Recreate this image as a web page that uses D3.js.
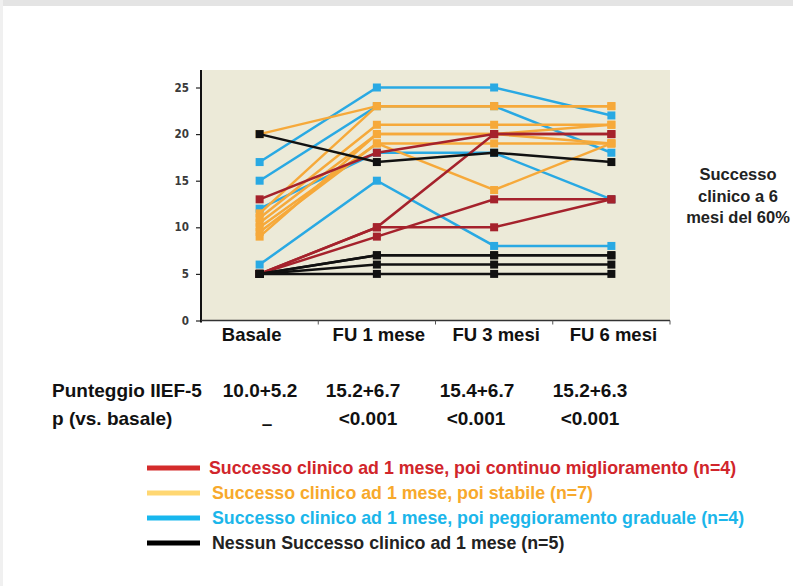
<!DOCTYPE html>
<html>
<head>
<meta charset="utf-8">
<script src="https://cdn.jsdelivr.net/npm/d3@7"></script>
<style>
  body { margin: 0; background: #fff; }
  text { font-family: "Liberation Sans", Arial, sans-serif; }
</style>
</head>
<body>
<div id="chart"></div>
<script>
// categories on the x axis
var categories = ["Basale", "FU 1 mese", "FU 3 mesi", "FU 6 mesi"];
var yTicks = [0, 5, 10, 15, 20, 25];

// IIEF-5 score of every patient, one array per patient, grouped by outcome
var redSeries = [[13, 18, 20, 20], [5, 10, 20, 20], [5, 9, 13, 13], [5, 10, 10, 13]];
var orangeSeries = [[20, 23, 23, 23], [11.5, 23, 23, 23], [11, 21, 21, 21], [10.5, 20, 20, 21],
                    [10, 19, 19, 19], [9.5, 19, 14, 19], [9, 20, 20, 19]];
var blueSeries = [[17, 25, 25, 22], [15, 23, 23, 18], [12, 18, 18, 13], [6, 15, 8, 8]];
var blackSeries = [[20, 17, 18, 17], [5, 7, 7, 7], [5, 7, 7, 7], [5, 6, 6, 6], [5, 5, 5, 5]];

// table under the chart
var scoreRow = ["10.0+5.2", "15.2+6.7", "15.4+6.7", "15.2+6.3"];
var pRow = ["–", "<0.001", "<0.001", "<0.001"];

var legendLabels = [
    "Successo clinico ad 1 mese, poi continuo miglioramento (n=4)",
    "Successo clinico ad 1 mese, poi stabile (n=7)",
    "Successo clinico ad 1 mese, poi peggioramento graduale (n=4)",
    "Nessun Successo clinico ad 1 mese (n=5)"
];
var sideNote = ["Successo", "clinico a 6", "mesi del 60%"];

var W = 793, H = 586;
var svg = d3.select("#chart").append("svg")
    .attr("width", W)
    .attr("height", H);

// gray strip on top of the page
svg.append("rect").attr("x", 0).attr("y", 0).attr("width", W).attr("height", 6).attr("fill", "#e4e4e4");
svg.append("rect").attr("x", 0).attr("y", 0).attr("width", 3).attr("height", H).attr("fill", "#f0f0f0");

var plot = {left: 201, right: 670, top: 70, bottom: 320.5};

var x = d3.scaleBand()
    .domain(categories)
    .range([plot.left, plot.right]);

var y = d3.scaleLinear()
    .domain([0, 25])
    .range([plot.bottom, 87.5]);

// beige plot background
svg.append("rect")
    .attr("x", plot.left)
    .attr("y", plot.top)
    .attr("width", plot.right - plot.left)
    .attr("height", plot.bottom - plot.top)
    .attr("fill", "#ecead8");

// y axis
var yAxis = svg.append("g")
    .attr("transform", "translate(" + plot.left + ",0)")
    .call(d3.axisLeft(y).tickValues(yTicks).tickSize(5).tickPadding(7));
yAxis.select(".domain").remove();
yAxis.selectAll("line").attr("stroke", "#222").attr("stroke-width", 1.2);
yAxis.selectAll("text")
    .style("font-family", "'DejaVu Sans Condensed', sans-serif")
    .style("font-weight", "bold")
    .style("font-size", "11.5px")
    .attr("fill", "#3a3a3a");
svg.append("line")
    .attr("x1", plot.left).attr("x2", plot.left)
    .attr("y1", plot.top).attr("y2", plot.bottom + 2)
    .attr("stroke", "#111").attr("stroke-width", 2);

// x axis
var xAxis = svg.append("g")
    .attr("transform", "translate(0," + plot.bottom + ")")
    .call(d3.axisBottom(x).tickSize(0).tickPadding(7));
xAxis.select(".domain").remove();
xAxis.selectAll("text")
    .style("font-size", "18.5px")
    .style("font-weight", "bold")
    .attr("fill", "#111")
    .attr("dx", function(d, i){ return i === 0 ? -8 : 2; });
svg.append("line")
    .attr("x1", plot.left).attr("x2", plot.right)
    .attr("y1", plot.bottom).attr("y2", plot.bottom)
    .attr("stroke", "#333").attr("stroke-width", 1.5);
svg.selectAll("line.xtick")
    .data(categories)
    .enter().append("line")
    .attr("class", "xtick")
    .attr("x1", function(d){ return x(d) + x.bandwidth(); })
    .attr("x2", function(d){ return x(d) + x.bandwidth(); })
    .attr("y1", plot.bottom)
    .attr("y2", plot.bottom + 4)
    .attr("stroke", "#555").attr("stroke-width", 1);

var line = d3.line()
    .x(function(d, i){ return x(categories[i]) + x.bandwidth() / 2; })
    .y(function(d){ return y(d); });

var groups = [
    {name: "blue", data: blueSeries, color: "#29a9e3"},
    {name: "orange", data: orangeSeries, color: "#f6a93a"},
    {name: "red", data: redSeries, color: "#a5222c"},
    {name: "black", data: blackSeries, color: "#111111"}
];

groups.forEach(function(g){
    var gg = svg.append("g").attr("class", "group-" + g.name);
    gg.selectAll("path")
        .data(g.data)
        .enter().append("path")
        .attr("d", line)
        .attr("fill", "none")
        .attr("stroke", g.color)
        .attr("stroke-width", 2.5);
    g.data.forEach(function(series){
        gg.selectAll(null)
            .data(series)
            .enter().append("rect")
            .attr("x", function(d, i){ return x(categories[i]) + x.bandwidth() / 2 - 4; })
            .attr("y", function(d){ return y(d) - 4; })
            .attr("width", 8)
            .attr("height", 8)
            .attr("fill", g.color);
    });
});

// note on the right
svg.selectAll("text.side")
    .data(sideNote)
    .enter().append("text")
    .attr("class", "side")
    .attr("x", 738)
    .attr("y", function(d, i){ return 180 + i * 21.5; })
    .attr("text-anchor", "middle")
    .style("font-size", "16.5px")
    .style("font-weight", "bold")
    .attr("fill", "#222")
    .text(function(d){ return d; });

// table
var colX = [260, 363, 477, 590];
svg.append("text").attr("x", 52).attr("y", 397)
    .style("font-size", "19px").style("font-weight", "bold").attr("fill", "#111")
    .text("Punteggio IIEF-5");
svg.append("text").attr("x", 52).attr("y", 425)
    .style("font-size", "19px").style("font-weight", "bold").attr("fill", "#111")
    .text("p (vs. basale)");
svg.selectAll("text.score")
    .data(scoreRow)
    .enter().append("text")
    .attr("class", "score")
    .attr("x", function(d, i){ return colX[i]; })
    .attr("y", 397)
    .attr("text-anchor", "middle")
    .style("font-size", "19px").style("font-weight", "bold").attr("fill", "#111")
    .text(function(d){ return d; });
svg.selectAll("text.pval")
    .data(pRow)
    .enter().append("text")
    .attr("class", "pval")
    .attr("x", function(d, i){ return [267, 368, 476, 590][i]; })
    .attr("y", function(d, i){ return i === 0 ? 430 : 425; })
    .attr("text-anchor", "middle")
    .style("font-size", "19px").style("font-weight", "bold").attr("fill", "#111")
    .text(function(d){ return d; });

// legend
var legendLine = ["#d42b2b", "#ffd772", "#18b7ee", "#000000"];
var legendText = ["#d1252b", "#f7a92c", "#1bb6ea", "#222222"];
var legend = svg.selectAll("g.legend")
    .data(legendLabels)
    .enter().append("g")
    .attr("class", "legend")
    .attr("transform", function(d, i){ return "translate(0," + (468 + i * 25) + ")"; });
legend.append("line")
    .attr("x1", 147).attr("x2", 200)
    .attr("stroke", function(d, i){ return legendLine[i]; })
    .attr("stroke-width", 5);
legend.append("text")
    .attr("x", function(d, i){ return i === 0 ? 209 : 212; })
    .attr("y", 6)
    .style("font-size", "17.8px")
    .style("font-weight", "bold")
    .attr("fill", function(d, i){ return legendText[i]; })
    .text(function(d){ return d; });
</script>
</body>
</html>
